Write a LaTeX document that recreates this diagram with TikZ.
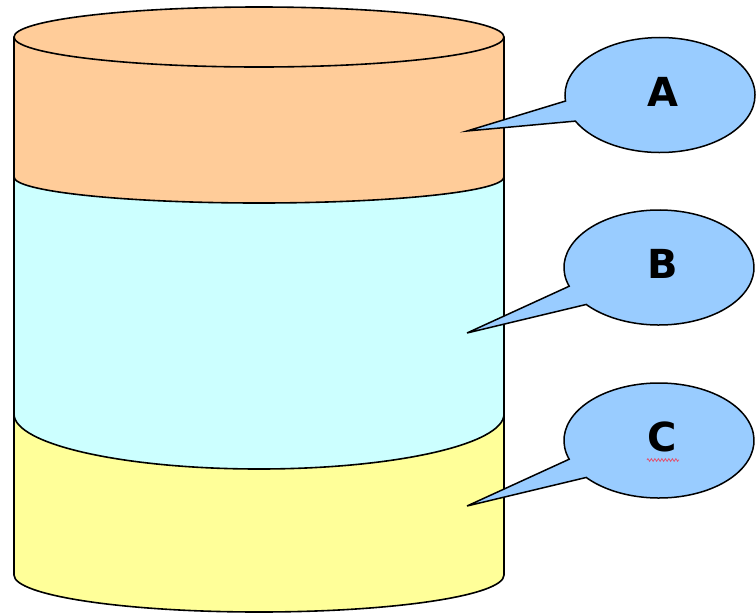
\documentclass[tikz,border=0pt]{standalone}
\usepackage{fontspec}
\newfontfamily\lblfont{DejaVu Sans}
\usetikzlibrary{calc,decorations.pathmorphing}
\definecolor{cOrange}{RGB}{255,204,153}
\definecolor{cCyan}{RGB}{204,255,255}
\definecolor{cYellow}{RGB}{255,255,153}
\definecolor{cBlue}{RGB}{153,204,255}
\definecolor{cSquig}{RGB}{225,80,110}
\tikzset{
  edge/.style={draw=black, line width=1.6pt},
  bub/.style={fill=cBlue, draw=black, line width=1.5pt, line join=miter},
  lbl/.style={font=\lblfont\bfseries\fontsize{40}{40}\selectfont, inner sep=0pt}
}
\begin{document}
\begin{tikzpicture}[x=1pt,y=1pt]
\useasboundingbox (0,0) rectangle (756,-614);
\fill[white] (0,0) rectangle (756,-614);
% yellow band
\fill[cYellow] (14,-414) -- (14,-575) arc[start angle=180,end angle=360,x radius=245,y radius=37] -- (504,-414) -- cycle;
\draw[edge] (14,-414) -- (14,-575) arc[start angle=180,end angle=360,x radius=245,y radius=37] -- (504,-414);
% cyan band
\fill[cCyan] (14,-177) -- (14,-414) arc[start angle=180,end angle=360,x radius=245,y radius=55] -- (504,-177) -- cycle;
\draw[edge] (14,-177) -- (14,-414) arc[start angle=180,end angle=360,x radius=245,y radius=55] -- (504,-177);
% orange band
\fill[cOrange] (14,-37) -- (14,-177) arc[start angle=180,end angle=360,x radius=245,y radius=26] -- (504,-37) -- cycle;
\draw[edge] (14,-37) -- (14,-177) arc[start angle=180,end angle=360,x radius=245,y radius=26] -- (504,-37);
% top ellipse
\filldraw[edge, fill=cOrange] (259,-37) ellipse[x radius=245, y radius=30];
% bubbles
\coordinate (cA) at (660,-95);
\coordinate (cB) at (659,-267.5);
\coordinate (cC) at (659,-440.5);
\coordinate (tipA) at (467,-131);
\coordinate (tipB) at (467,-333);
\coordinate (tipC) at (467,-506);
\filldraw[bub] (tipA) -- ($(cA)+(186:95 and 57.5)$) arc[start angle=186, end angle=-153, x radius=95, y radius=57.5] -- cycle;
\filldraw[bub] (tipB) -- ($(cB)+(199:95 and 57.5)$) arc[start angle=199, end angle=-140, x radius=95, y radius=57.5] -- cycle;
\filldraw[bub] (tipC) -- ($(cC)+(199:95 and 57.5)$) arc[start angle=199, end angle=-140, x radius=95, y radius=57.5] -- cycle;
\node[lbl] (labA) at (663,-92) {A};
\node[lbl] (labB) at (663,-264) {B};
\node[lbl] (labC) at (662,-437) {C};
\draw[cSquig, line width=0.8pt, decorate, decoration={zigzag, segment length=3.5pt, amplitude=1.3pt}] (647,-460) -- (679,-460);
\end{tikzpicture}
\end{document}
